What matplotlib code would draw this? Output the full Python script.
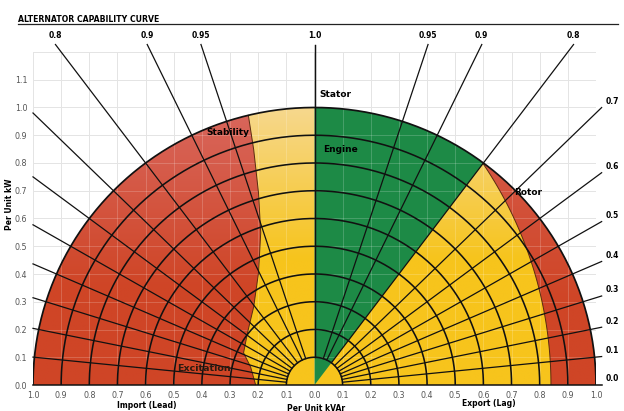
import numpy as np
import matplotlib
matplotlib.use("Agg")
from matplotlib import pyplot as plt
from matplotlib.patches import Polygon
from matplotlib.colors import LinearSegmentedColormap

# power factor lines (same set on lead and lag side)
pf_values = [0.0, 0.1, 0.2, 0.3, 0.4, 0.5, 0.6, 0.7, 0.8, 0.9, 0.95, 1.0]
pf_top_labels = [0.8, 0.9, 0.95]          # labelled along the top
pf_side_labels = [0.0, 0.1, 0.2, 0.3, 0.4, 0.5, 0.6, 0.7]  # labelled on the right
circle_radii = [0.1, 0.2, 0.3, 0.4, 0.5, 0.6, 0.7, 0.8, 0.9, 1.0]

# stability / excitation limit on the lead side (kVAr, kW), bottom to top
stab_x = [-0.209, -0.227, -0.252, -0.238, -0.216, -0.199, -0.191, -0.199, -0.216, -0.235]
stab_y = [0.0, 0.065, 0.116, 0.188, 0.282, 0.404, 0.549, 0.693, 0.848, 0.972]

# rotor limit: circle centre on kVAr axis and its radius
rotor_centre = -0.6
rotor_radius = 1.44
engine_pf = 0.8   # green region goes from pf 1.0 to pf 0.8 lag

x_ticks = [-1.0, -0.9, -0.8, -0.7, -0.6, -0.5, -0.4, -0.3, -0.2, -0.1, 0.0,
           0.1, 0.2, 0.3, 0.4, 0.5, 0.6, 0.7, 0.8, 0.9, 1.0]
y_ticks = [0.0, 0.1, 0.2, 0.3, 0.4, 0.5, 0.6, 0.7, 0.8, 0.9, 1.0, 1.1]

fig = plt.figure(figsize=(6.24, 4.11), dpi=100)
ax = fig.add_axes([33 / 624, 26 / 411, 563 / 624, 333 / 411])
ax.set_xlim(-1.0, 1.0)
ax.set_ylim(0.0, 1.2)
for s in ax.spines.values():
    s.set_visible(False)

# background grid
for v in np.arange(-1.0, 1.01, 0.1):
    ax.plot([v, v], [0, 1.2], color='#d8d8d8', lw=0.6, zorder=0)
for v in np.arange(0.0, 1.21, 0.1):
    ax.plot([-1, 1], [v, v], color='#d8d8d8', lw=0.6, zorder=0)

t = np.linspace(0, np.pi, 300)
semi = np.column_stack([np.cos(t), np.sin(t)])


def gradient_fill(poly_xy, c_top, c_bot, y0, y1, z):
    patch = Polygon(poly_xy, closed=True, facecolor='none', edgecolor='none')
    ax.add_patch(patch)
    cm = LinearSegmentedColormap.from_list('g', [c_bot, c_top])
    g = np.clip((np.linspace(0, 1.2, 200) - y0) / (y1 - y0), 0, 1)
    im = ax.imshow(g[:, None] * np.ones((1, 10)), extent=[-1, 1, 0, 1.2],
                   origin='lower', cmap=cm, aspect='auto', zorder=z,
                   interpolation='bilinear')
    im.set_clip_path(patch)


# yellow base
gradient_fill(semi, '#f6d88e', '#f7c41c', 0.45, 1.0, 1)

# green engine sector
a_eng = np.arccos(engine_pf)
ta = np.linspace(np.pi / 2 - a_eng, np.pi / 2, 100)
green = np.vstack([[0, 0], np.column_stack([np.cos(ta), np.sin(ta)])])
ax.add_patch(Polygon(green, closed=True, facecolor='#1d8a46', edgecolor='none', zorder=2))

# red lead-side region (stability + excitation)
a_stab = np.arctan2(stab_y[-1], stab_x[-1])
tl = np.linspace(a_stab, np.pi, 200)
red_left = np.vstack([np.column_stack([np.cos(tl), np.sin(tl)]),
                      np.column_stack([stab_x, stab_y])])
gradient_fill(red_left, '#d9675d', '#cf4526', 0.35, 1.0, 2)
ax.plot(stab_x, stab_y, color='#5a2a10', lw=0.7, zorder=4)

# red lag-side region (rotor limit)
top_pt = (np.sqrt(1 - engine_pf ** 2), engine_pf)
a_rot = np.arctan2(top_pt[1], top_pt[0])
tr = np.linspace(a_rot, 0, 100)
phi_top = np.arctan2(top_pt[1], top_pt[0] - rotor_centre)
phi = np.linspace(0, phi_top, 100)
rotor_arc = np.column_stack([rotor_centre + rotor_radius * np.cos(phi), rotor_radius * np.sin(phi)])
red_right = np.vstack([np.column_stack([np.cos(tr), np.sin(tr)]), rotor_arc])
gradient_fill(red_right, '#d65a48', '#cf4526', 0.3, 0.9, 2)
ax.plot(rotor_arc[:, 0], rotor_arc[:, 1], color='#5a2a10', lw=0.7, zorder=4)

# faint grid showing through the colours
for v in np.arange(-1.0, 1.01, 0.1):
    ax.plot([v, v], [0, 1.2], color='white', alpha=0.22, lw=0.6, zorder=3)
for v in np.arange(0.0, 1.21, 0.1):
    ax.plot([-1, 1], [v, v], color='white', alpha=0.22, lw=0.6, zorder=3)

# concentric circles
for r in circle_radii:
    ax.plot(r * np.cos(t), r * np.sin(t), color='#111111', lw=1.15 if r < 1 else 1.25, zorder=5)

# power factor radial lines
for pf in pf_values:
    if pf == 0.0:
        continue
    a = np.arccos(pf)
    for side in (-1, 1):
        dx, dy = side * np.sin(a), np.cos(a)
        if pf >= 0.8:
            s_end = 1.227 / dy
        else:
            s_end = (1.0 if side < 0 else 1.02) / abs(dx)
        ax.plot([0.1 * dx, s_end * dx], [0.1 * dy, s_end * dy], color='#111111',
                lw=0.9, zorder=5, clip_on=False)
        if side > 0 and pf in pf_side_labels:
            ax.text(1.035, s_end * dy + 0.022, f'{pf:.1f}', fontsize=5.5, fontweight='bold',
                    ha='left', va='center', clip_on=False)
        if pf in pf_top_labels or pf == 1.0:
            if side < 0 and pf == 1.0:
                continue
            lab = f'{pf:.2f}' if pf == 0.95 else f'{pf:.1f}'
            ax.text(s_end * dx, 1.26, lab, fontsize=5.5, fontweight='bold',
                    ha='center', va='center', clip_on=False)
# base line (pf 0.0)
ax.plot([-1.0, 1.02], [0, 0], color='#111111', lw=1.1, zorder=5, clip_on=False)
ax.text(1.035, 0.022, '0.0', fontsize=5.5, fontweight='bold', ha='left', va='center', clip_on=False)

# region labels
ax.text(0.075, 1.047, 'Stator', fontsize=6.5, fontweight='bold', ha='center', va='center', zorder=6)
ax.text(0.092, 0.848, 'Engine', fontsize=6.5, fontweight='bold', ha='center', va='center', zorder=6)
ax.text(-0.309, 0.91, 'Stability', fontsize=6.5, fontweight='bold', ha='center', va='center', zorder=6)
ax.text(0.759, 0.693, 'Rotor', fontsize=6.5, fontweight='bold', ha='center', va='center', zorder=6)
ax.text(-0.394, 0.061, 'Excitation', fontsize=6.8, fontweight='bold', ha='center', va='center',
        color='#2a1a10', zorder=6)

# ticks
ax.set_xticks(x_ticks)
ax.set_xticklabels([f'{abs(v):.1f}' for v in x_ticks], fontsize=5.8, color='#555555')
ax.set_yticks(y_ticks)
ax.set_yticklabels([f'{v:.1f}' for v in y_ticks], fontsize=5.8, color='#555555')
ax.tick_params(length=0, pad=4)

# axis titles and header
fig.text(147 / 624, 1 - 405 / 411, 'Import (Lead)', fontsize=5.5, fontweight='bold', ha='center', va='center')
fig.text(316 / 624, 1 - 408 / 411, 'Per Unit kVAr', fontsize=5.5, fontweight='bold', ha='center', va='center')
fig.text(489 / 624, 1 - 403 / 411, 'Export (Lag)', fontsize=5.5, fontweight='bold', ha='center', va='center')
fig.text(10 / 624, 1 - 204 / 411, 'Per Unit kW', fontsize=5.5, fontweight='bold', rotation=90,
         ha='center', va='center')
fig.text(18 / 624, 1 - 19 / 411, 'ALTERNATOR CAPABILITY CURVE', fontsize=5.6, fontweight='bold',
         ha='left', va='center')
fig.add_artist(plt.Line2D([18 / 624, 618 / 624], [1 - 24 / 411, 1 - 24 / 411], color='#222222', lw=0.9))

fig.savefig('out.png', dpi=100)
